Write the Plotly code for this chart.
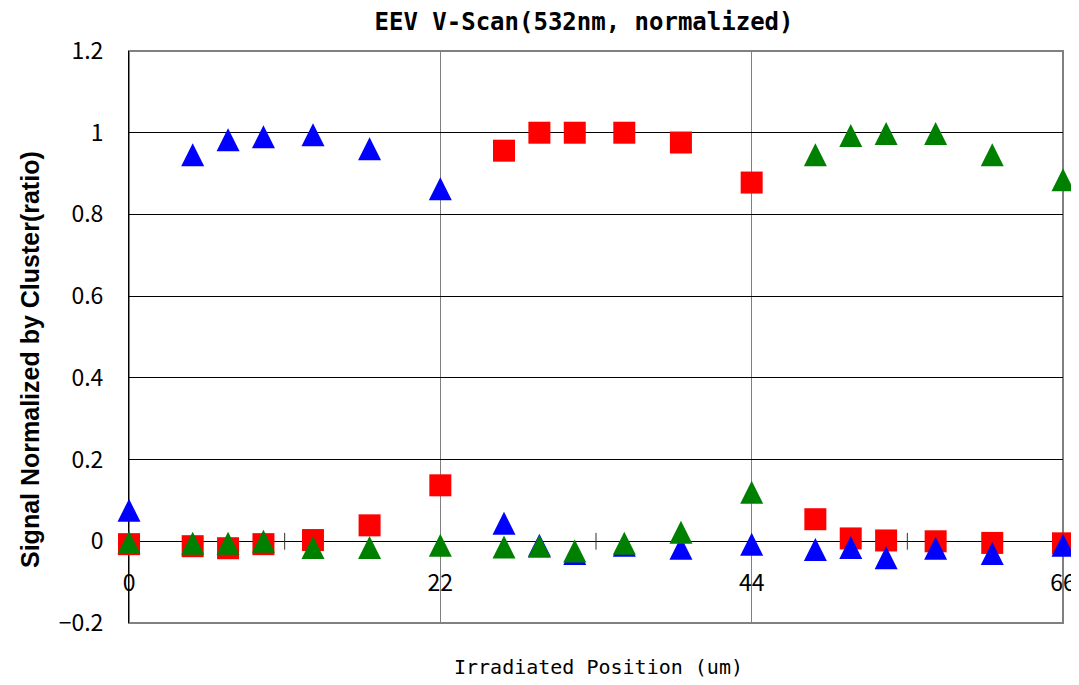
import plotly.graph_objects as go

# ---- data ----
positions = [0, 4.5, 7, 9.5, 13, 17, 22, 26.5, 29, 31.5, 35, 39, 44, 48.5, 51, 53.5, 57, 61, 66]
blue_vals = [0.076, 0.946, 0.983, 0.99, 0.995, 0.961, 0.863, 0.044, -0.01, -0.03, -0.01, -0.017,
             -0.007, -0.02, -0.015, -0.04, -0.017, -0.03, -0.01]
red_vals = [-0.007, -0.012, -0.017, -0.007, 0.003, 0.039, 0.137, 0.956, 1.0, 1.0, 1.0, 0.976,
            0.878, 0.054, 0.007, 0.002, 0.0, -0.004, -0.005]
green_vals = [-0.003, -0.005, -0.005, 0.0, -0.015, -0.015, -0.01, -0.014, -0.012, -0.024, -0.005,
              0.022, 0.12, 0.946, 0.993, 0.998, 0.998, 0.946, 0.885]
x_ticks = [0, 22, 44, 66]
minor_ticks = [11, 33, 55]
y_ticks = [-0.2, 0, 0.2, 0.4, 0.6, 0.8, 1, 1.2]
y_tick_text = ["\u22120.2", "0", "0.2", "0.4", "0.6", "0.8", "1", "1.2"]

title_text = "EEV V-Scan(532nm, normalized)"
x_title = "Irradiated Position (um)"
y_title = "Signal Normalized by Cluster(ratio)"

Y_MIN, Y_MAX = -0.2, 1.2
GOTHIC = "Noto Sans CJK JP"
MONO = "DejaVu Sans Mono"

# figure / plot-area geometry (px, figure coordinates; the page adds an 8px body margin)
W, H = 1071, 677
ML, MR, MT, MB = 121, 16, 43, 62
PLOT_W = W - ML - MR
PLOT_H = H - MT - MB
TRI = 23  # triangle marker size (px)
# triangles use arrow-up symbols whose apex sits on the point; an overlay y-axis
# shifted by half the marker height centres them on their values
tri_shift = (TRI / 2) * (Y_MAX - Y_MIN) / PLOT_H

fig = go.Figure()

fig.add_trace(go.Scatter(
    x=minor_ticks, y=[0] * len(minor_ticks), mode="markers", hoverinfo="skip",
    marker=dict(symbol="line-ns", size=12, line=dict(color="#303030", width=1)),
    cliponaxis=False, showlegend=False))

fig.add_trace(go.Scatter(
    x=positions, y=blue_vals, mode="markers", name="blue", yaxis="y2",
    marker=dict(symbol="arrow-up", size=TRI, color="#0000FF", line=dict(width=0)),
    cliponaxis=False))
fig.add_trace(go.Scatter(
    x=positions, y=red_vals, mode="markers", name="red",
    marker=dict(symbol="square", size=22, color="#FF0000", line=dict(width=0)),
    cliponaxis=False))
fig.add_trace(go.Scatter(
    x=positions, y=green_vals, mode="markers", name="green", yaxis="y2",
    marker=dict(symbol="arrow-up", size=TRI, color="#008000", line=dict(width=0)),
    cliponaxis=False))

zero_pos = (0 - Y_MIN) / (Y_MAX - Y_MIN)

fig.update_layout(
    width=W, height=H,
    margin=dict(l=ML, r=MR, t=MT, b=MB, autoexpand=False),
    paper_bgcolor="white", plot_bgcolor="white",
    showlegend=False,
    title=dict(text=title_text, x=576 / W, xref="container", xanchor="center",
               y=1 - 14 / H, yref="container", yanchor="middle",
               font=dict(family=MONO, size=24, color="black", weight="bold")),
    xaxis=dict(range=[0, 66], tickvals=x_ticks, ticktext=[str(v) for v in x_ticks],
               showgrid=True, gridcolor="#808080", gridwidth=1,
               zeroline=False, showline=True, linecolor="black", linewidth=1,
               anchor="free", position=zero_pos, ticks="", ticklabelstandoff=21,
               tickfont=dict(family=GOTHIC, size=23, color="black"),
               layer="below traces", automargin=False),
    yaxis=dict(range=[Y_MIN, Y_MAX], tickvals=y_ticks, ticktext=y_tick_text,
               showgrid=True, gridcolor="black", gridwidth=1, zeroline=False,
               showline=True, linecolor="black", linewidth=1,
               ticks="inside", ticklen=4, tickcolor="black", ticklabelstandoff=20,
               tickfont=dict(family=GOTHIC, size=23, color="black"),
               layer="below traces", automargin=False),
    yaxis2=dict(range=[Y_MIN - tri_shift, Y_MAX - tri_shift], overlaying="y",
                visible=False, showgrid=False, zeroline=False),
    shapes=[dict(type="rect", xref="paper", yref="paper", x0=0, x1=1, y0=0, y1=1,
                 line=dict(color="#808080", width=2), layer="between")],
    annotations=[
        dict(text=x_title, xref="paper", yref="paper", x=(590 - ML) / PLOT_W,
             y=-(659 - (H - MB)) / PLOT_H,
             xanchor="center", yanchor="middle", showarrow=False,
             font=dict(family=MONO, size=20, color="black")),
        dict(text=y_title, xref="paper", yref="paper", x=(22 - ML) / PLOT_W,
             y=((H - MB) - 352) / PLOT_H,
             xanchor="center", yanchor="middle", showarrow=False, textangle=-90,
             font=dict(family="Liberation Sans", size=25, color="black", weight="bold")),
    ],
)

fig.write_html("out.html")
